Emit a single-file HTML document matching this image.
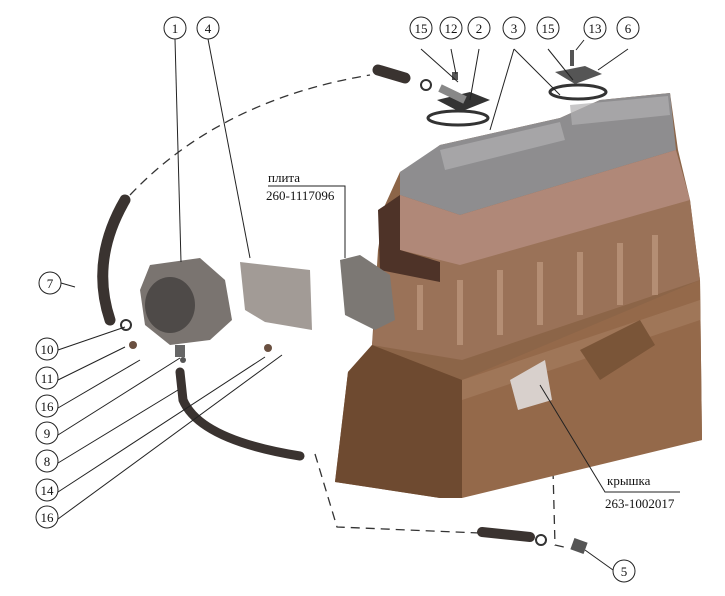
<!DOCTYPE html>
<html><head><meta charset="utf-8"><style>
html,body{margin:0;padding:0;background:#fff}
svg{display:block}
text{font-family:"Liberation Serif",serif;fill:#111}
</style></head><body>
<svg width="725" height="596" viewBox="0 0 725 596" xmlns="http://www.w3.org/2000/svg">
<rect width="725" height="596" fill="#fff"/>
<path d="M130,195 Q220,100 370,75" fill="none" stroke="#333" stroke-width="1.3" stroke-dasharray="9,6"/>
<path d="M315,454 L337,527 L480,533" fill="none" stroke="#333" stroke-width="1.3" stroke-dasharray="9,6"/>
<path d="M553,470 L555,545 L568,548" fill="none" stroke="#333" stroke-width="1.3" stroke-dasharray="9,6"/>
<!-- engine -->
<polygon points="335,482 348,372 372,345 378,250 385,205 400,172 420,160 440,145 560,118 600,100 670,93 678,150 690,200 700,280 702,440 440,498" fill="#8c6548"/>
<polygon points="380,270 690,200 700,280 462,360 372,345" fill="#9a7258"/>
<g stroke="#c09a80" stroke-width="6" opacity=".7">
<path d="M420,285 L420,330"/><path d="M460,280 L460,345"/><path d="M500,270 L500,335"/><path d="M540,262 L540,325"/><path d="M580,252 L580,315"/><path d="M620,243 L620,305"/><path d="M655,235 L655,295"/>
</g>
<polygon points="400,172 440,145 560,118 600,100 670,93 676,150 460,215 400,195" fill="#8e8d8f"/>
<polygon points="440,150 560,122 565,140 445,170" fill="#b0afb1" opacity=".7"/>
<polygon points="570,105 668,96 670,115 572,125" fill="#b0afb1" opacity=".7"/>
<polygon points="400,195 460,215 676,150 690,200 460,265 400,250" fill="#b08878"/>
<polygon points="378,210 400,195 400,250 440,262 440,282 380,270" fill="#4e3328"/>
<polygon points="335,482 348,372 372,345 462,380 462,498 440,498" fill="#6e4a30"/>
<polygon points="462,380 700,280 702,440 462,498" fill="#94694a"/>
<polygon points="462,380 700,300 700,320 462,400" fill="#a67e62" opacity=".6"/>
<polygon points="510,380 545,360 552,400 518,410" fill="#d8d0cc"/>
<polygon points="580,350 640,320 655,345 600,380" fill="#7a5538"/>
<!-- top parts -->
<ellipse cx="458" cy="118" rx="30" ry="7" fill="none" stroke="#333" stroke-width="3"/>
<polygon points="437,100 470,92 490,100 460,112" fill="#333"/>
<path d="M440,88 L465,100" stroke="#888" stroke-width="8"/>
<ellipse cx="578" cy="92" rx="28" ry="7" fill="none" stroke="#333" stroke-width="3"/>
<polygon points="555,72 585,66 602,74 575,84" fill="#555"/>
<rect x="570" y="50" width="4" height="16" fill="#555"/>
<rect x="452" y="72" width="6" height="8" fill="#555"/>
<path d="M378,70 L405,78" stroke="#3a3330" stroke-width="11" stroke-linecap="round"/>
<circle cx="426" cy="85" r="5" fill="none" stroke="#333" stroke-width="2"/>
<path d="M125,200 Q90,260 110,320" fill="none" stroke="#3a3330" stroke-width="11" stroke-linecap="round"/>
<circle cx="126" cy="325" r="5" fill="none" stroke="#333" stroke-width="2"/>
<path d="M180,372 L183,400 Q200,440 300,456" fill="none" stroke="#3a3330" stroke-width="9" stroke-linecap="round"/>
<path d="M482,532 L530,537" stroke="#3a3330" stroke-width="10" stroke-linecap="round"/>
<circle cx="541" cy="540" r="5" fill="none" stroke="#333" stroke-width="2"/>
<rect x="572" y="540" width="14" height="12" fill="#555" transform="rotate(20 579 546)"/>
<!-- pump -->
<polygon points="150,265 200,258 225,280 232,320 210,340 170,345 145,325 140,290" fill="#7a7470"/>
<ellipse cx="170" cy="305" rx="25" ry="28" fill="#4e4a48"/>
<rect x="175" y="345" width="10" height="12" fill="#666"/>
<polygon points="240,262 310,270 312,330 265,322 245,310" fill="#a29b96"/>
<polygon points="340,260 360,255 390,275 395,320 375,330 345,315" fill="#7c7874"/>
<circle cx="133" cy="345" r="4" fill="#6a5040"/>
<circle cx="268" cy="348" r="4" fill="#6a5040"/>
<circle cx="183" cy="360" r="3" fill="#555"/>
<g stroke="#222" stroke-width="1" fill="none">
<path d="M175,39 L181,262"/><path d="M208,39 L250,258"/>
<path d="M421,49 L458,82"/><path d="M451,49 L456,74"/><path d="M479,49 L470,100"/>
<path d="M514,49 L490,130"/><path d="M514,49 L560,95"/><path d="M548,49 L573,80"/>
<path d="M584,40 L576,50"/><path d="M628,49 L598,70"/>
<path d="M61,283 L75,287"/><path d="M58,350 L125,327"/><path d="M58,380 L125,347"/>
<path d="M58,408 L140,360"/><path d="M58,435 L180,358"/><path d="M58,463 L178,390"/>
<path d="M58,492 L265,357"/><path d="M58,519 L282,355"/><path d="M613,570 L585,550"/>
<path d="M268,186 L345,186 L345,258"/><path d="M680,492 L605,492 L540,385"/>
</g>
<text x="268" y="182" font-size="13">плита</text>
<text x="266" y="200" font-size="13">260-1117096</text>
<text x="607" y="485" font-size="13">крышка</text>
<text x="605" y="508" font-size="13">263-1002017</text>
<g fill="#fff" stroke="#222" stroke-width="1">
<circle cx="175" cy="28" r="11"/><circle cx="208" cy="28" r="11"/>
<circle cx="421" cy="28" r="11"/><circle cx="451" cy="28" r="11"/><circle cx="479" cy="28" r="11"/>
<circle cx="514" cy="28" r="11"/><circle cx="548" cy="28" r="11"/><circle cx="595" cy="28" r="11"/>
<circle cx="628" cy="28" r="11"/><circle cx="50" cy="283" r="11"/>
<circle cx="47" cy="349" r="11"/><circle cx="47" cy="378" r="11"/><circle cx="47" cy="406" r="11"/>
<circle cx="47" cy="433" r="11"/><circle cx="47" cy="461" r="11"/><circle cx="47" cy="490" r="11"/>
<circle cx="47" cy="517" r="11"/><circle cx="624" cy="571" r="11"/>
</g>
<g font-size="13" text-anchor="middle">
<text x="175" y="33">1</text><text x="208" y="33">4</text><text x="421" y="33">15</text>
<text x="451" y="33">12</text><text x="479" y="33">2</text><text x="514" y="33">3</text>
<text x="548" y="33">15</text><text x="595" y="33">13</text><text x="628" y="33">6</text>
<text x="50" y="288">7</text><text x="47" y="354">10</text><text x="47" y="383">11</text>
<text x="47" y="411">16</text><text x="47" y="438">9</text><text x="47" y="466">8</text>
<text x="47" y="495">14</text><text x="47" y="522">16</text><text x="624" y="576">5</text>
</g>
</svg>
</body></html>
